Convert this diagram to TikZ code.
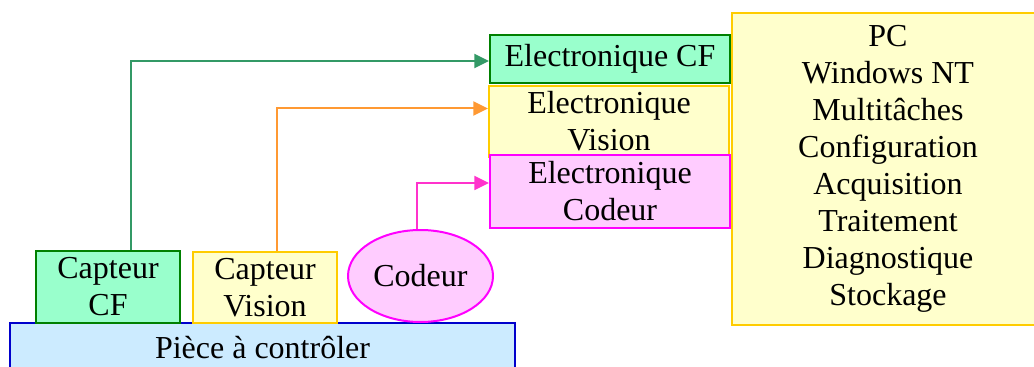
\documentclass[tikz,border=0pt]{standalone}
\usepackage{fontspec}
\setmainfont{Liberation Serif}
\usepackage{xcolor}
\usetikzlibrary{shapes,arrows.meta,positioning,calc}

\definecolor{vertfond}{HTML}{99FFCC}
\definecolor{vertbord}{HTML}{008000}
\definecolor{vertfleche}{HTML}{339966}
\definecolor{jaunefond}{HTML}{FFFFCC}
\definecolor{jaunebord}{HTML}{FFCC00}
\definecolor{orangefleche}{HTML}{FF9933}
\definecolor{rosefond}{HTML}{FFCCFF}
\definecolor{rosebord}{HTML}{FF00FF}
\definecolor{rosefleche}{HTML}{FF33CC}
\definecolor{bleufond}{HTML}{CCEBFF}
\definecolor{bleubord}{HTML}{0000CC}

\begin{document}
\begin{tikzpicture}[
    x=0.75pt, y=-0.75pt,
    every node/.style={inner sep=0pt, align=center, font=\fontsize{24}{27.8}\selectfont},
    bvert/.style={rectangle, draw=vertbord, fill=vertfond, line width=1.5pt},
    bjaune/.style={rectangle, draw=jaunebord, fill=jaunefond, line width=1.5pt},
    brose/.style={rectangle, draw=rosebord, fill=rosefond, line width=1.5pt},
    bbleu/.style={rectangle, draw=bleubord, fill=bleufond, line width=1.5pt},
    arr/.style={-{Triangle[length=11pt, width=10.5pt]}, line width=1.5pt}
]
    \useasboundingbox (0,0) rectangle (1034,367);

    \node [bbleu, minimum width=378.75pt, minimum height=36.75pt] (piece) at (262.5,347.5) {Pièce à contrôler};
    \node [bvert, minimum width=108pt, minimum height=54pt] (ccf) at (108,287) {Capteur\\CF};
    \node [bjaune, minimum width=108pt, minimum height=53.25pt] (cvis) at (265,287.5) {Capteur\\Vision};
    \node [brose, ellipse, minimum width=108.75pt, minimum height=69pt] (cod) at (420.5,276) {Codeur};

    \node [bjaune, minimum width=180pt, minimum height=53.25pt] (evis) at (609,121.5) {Electronique\\Vision};
    \node [bvert, minimum width=180pt, minimum height=36pt] (ecf) at (610,59) {Electronique CF};
    \node [brose, minimum width=180pt, minimum height=54.75pt] (ecod) at (610,191.5) {Electronique\\Codeur};

    \node [bjaune, minimum width=234pt, minimum height=234pt] (pc) at (888,169)
        {PC\\Windows NT\\Multitâches\\Configuration\\Acquisition\\Traitement\\Diagnostique\\Stockage};

    \draw [arr, vertfleche] ([xshift=17.25pt]ccf.north) |- ([yshift=-1.5pt]ecf.west);
    \draw [arr, orangefleche] ([xshift=9pt]cvis.north) |- ([yshift=9.75pt]evis.west);
    \draw [arr, rosefleche] ([xshift=-3pt]cod.north) |- ([yshift=6.4pt]ecod.west);
\end{tikzpicture}
\end{document}
